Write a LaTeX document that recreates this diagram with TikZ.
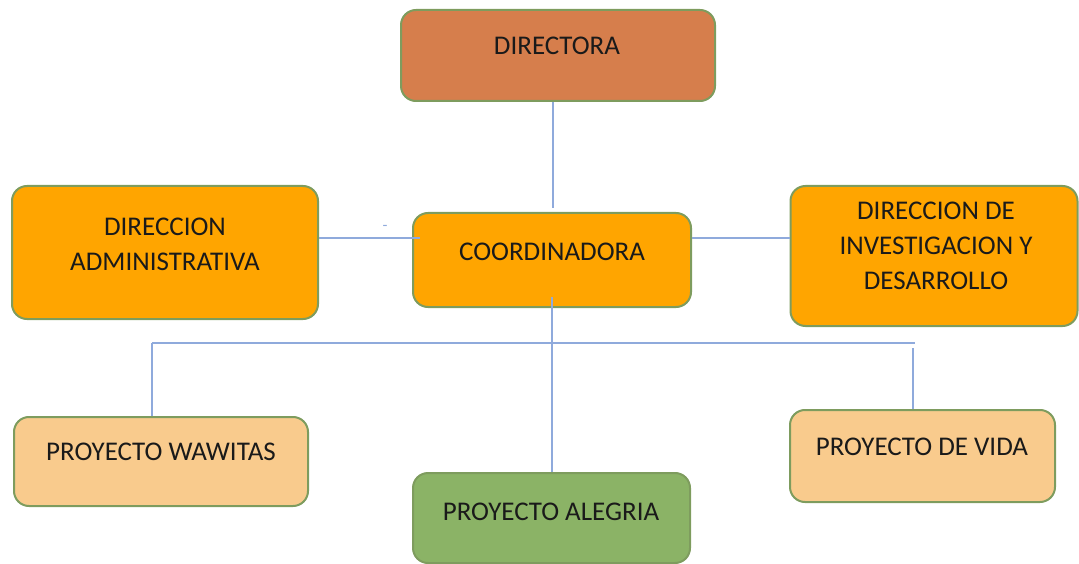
\documentclass[tikz,border=0pt]{standalone}
\usepackage{fontspec}
\setmainfont{Carlito}
\definecolor{cDir}{HTML}{D67E4C}
\definecolor{cOr}{HTML}{FFA500}
\definecolor{cPeach}{HTML}{F9CB8D}
\definecolor{cGreen}{HTML}{8BB366}
\definecolor{cBord}{HTML}{7E9C5E}
\definecolor{cLine}{HTML}{8FAADC}
\definecolor{cText}{HTML}{1A1A1A}
\begin{document}
\begin{tikzpicture}[x=1pt,y=-1pt,
  box/.style={draw=cBord,line width=2pt,rounded corners=15pt,inner sep=0pt},
  lbl/.style={text=cText,font=\fontsize{27}{35}\selectfont,align=center,inner sep=0pt},
  conn/.style={draw=cLine,line width=2pt}]
\useasboundingbox (0,0) rectangle (1079,564);
% boxes
\node[box,fill=cDir,minimum width=314pt,minimum height=91pt] (dir) at (558,55.5) {};
\node[box,fill=cOr,minimum width=306pt,minimum height=133pt] (adm) at (165,252.5) {};
\node[box,fill=cOr,minimum width=278pt,minimum height=94pt] (coo) at (552,260) {};
\node[box,fill=cOr,minimum width=287pt,minimum height=140pt] (inv) at (934,256) {};
\node[box,fill=cPeach,minimum width=294pt,minimum height=89pt] (waw) at (161,461.5) {};
\node[box,fill=cGreen,minimum width=277pt,minimum height=90pt] (ale) at (551.5,518) {};
\node[box,fill=cPeach,minimum width=265pt,minimum height=92pt] (vida) at (922.5,456) {};
% labels
\node[lbl] (tdir) at (557,46) {DIRECTORA};
\node[lbl] (tadm) at (165,244) {DIRECCION\\ADMINISTRATIVA};
\node[lbl] (tcoo) at (552,252) {COORDINADORA};
\node[lbl] (tinv) at (936,246) {DIRECCION DE\\INVESTIGACION Y\\DESARROLLO};
\node[lbl] (twaw) at (161,452) {PROYECTO WAWITAS};
\node[lbl] (tale) at (551,512) {PROYECTO ALEGRIA};
\node[lbl] (tvida) at (922,447) {PROYECTO DE VIDA};
\node[text=cLine,font=\fontsize{16}{16}\selectfont,inner sep=0pt] (dash) at (385,228) {-};
% connectors
\coordinate (dirEnd) at (553,208);
\coordinate (admIn) at (420,238);
\coordinate (cooIn) at (552,297);
\coordinate (busL) at (152,343);
\coordinate (busR) at (915,343);
\coordinate (vidaTop) at (913,348);
\path[conn] (dir.south -| dirEnd) -- (dirEnd);
\path[conn] (adm.east |- admIn) -- (admIn);
\path[conn] (coo.east |- admIn) -- (inv.west |- admIn);
\path[conn] (cooIn) -- (ale.north -| cooIn);
\path[conn] (busL) -- (busR);
\path[conn] (busL) -- (waw.north -| busL);
\path[conn] (vidaTop) -- (vida.north -| vidaTop);
\end{tikzpicture}
\end{document}
